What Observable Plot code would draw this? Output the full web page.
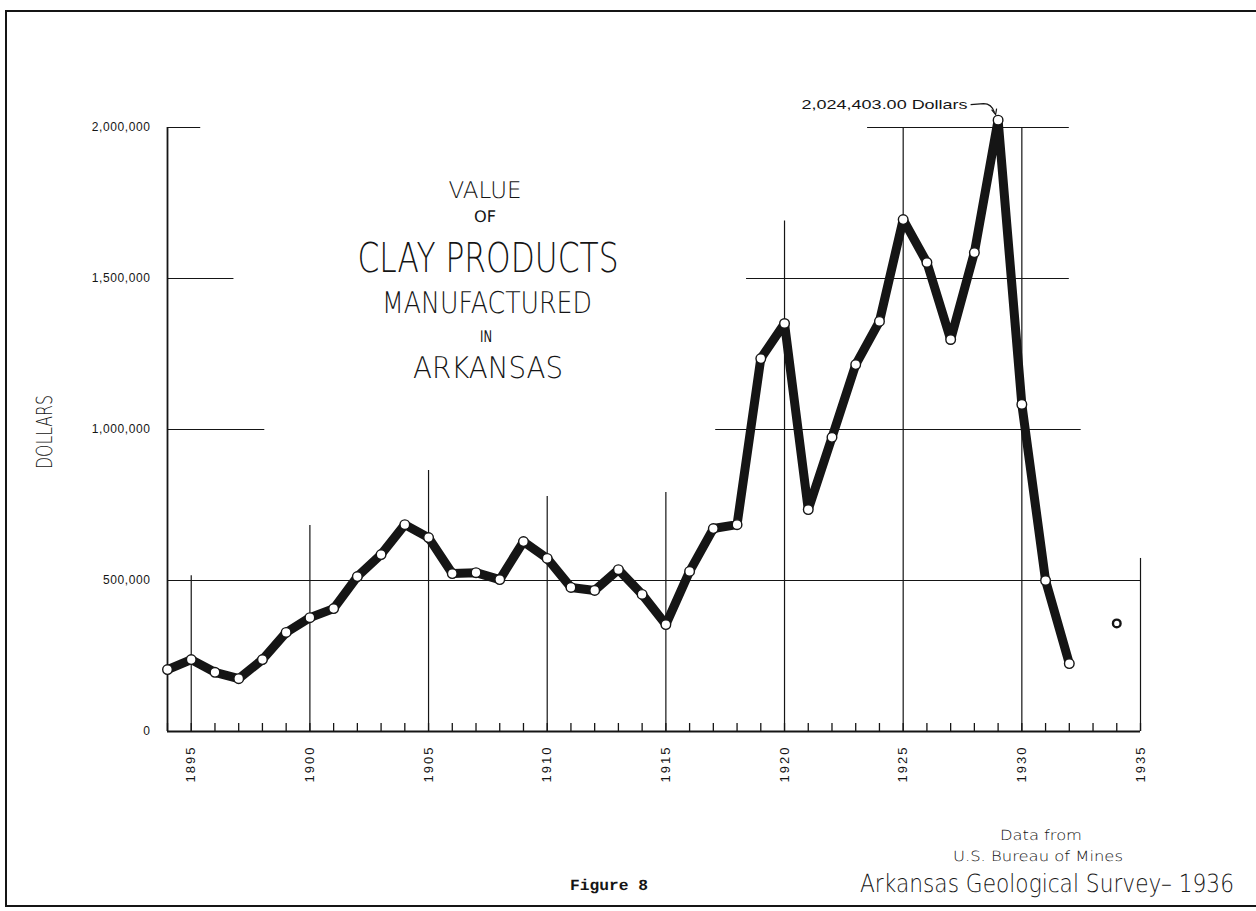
<!DOCTYPE html>
<html>
<head>
<meta charset="utf-8">
<script src="https://cdn.jsdelivr.net/npm/d3@7"></script>
<script src="https://cdn.jsdelivr.net/npm/@observablehq/plot@0.6"></script>
<style>
  body { margin: 0; background: #fff; }
  #wrap { position: relative; width: 1256px; height: 911px; overflow: hidden; background: #fff; }
  #frame { position: absolute; left: 5px; top: 10px; width: 1300px; height: 893px;
           border-left: 2px solid #151515; border-top: 2px solid #151515; border-bottom: 2.5px solid #151515; }
  #chart { position: absolute; left: 0; top: 0; }
  #overlay { position: absolute; left: 0; top: 0; pointer-events: none; text-rendering: geometricPrecision; }
</style>
</head>
<body>
<div id="wrap"><div id="frame"></div><div id="chart"></div></div>
<script>
// ---------------- data ----------------
const years = [1894,1895,1896,1897,1898,1899,1900,1901,1902,1903,1904,1905,1906,1907,1908,1909,1910,
  1911,1912,1913,1914,1915,1916,1917,1918,1919,1920,1921,1922,1923,1924,1925,1926,1927,1928,1929,1930,1931,1932];
const values = [205000,238000,196000,175000,238000,328000,377000,407000,513000,586000,685000,642000,523000,526000,503000,629000,573000,
  477000,467000,536000,454000,354000,530000,672000,685000,1235000,1351000,735000,974000,1215000,1358000,1695000,1553000,1298000,1586000,2024403,1083000,500000,225000];
const isolatedYears = [1934];
const isolatedValues = [358000];
const peakYear = 1929;
const peakLabel = "2,024,403.00 Dollars";

const xTickYears = [1895,1900,1905,1910,1915,1920,1925,1930,1935];
const yTickValues = [0,500000,1000000,1500000,2000000];

// hand-drawn partial grid (data units)
const hGridValues = [2000000,2000000,1500000,1500000,1000000,1000000,500000];
const hGridFrom   = [1894,1923.5,1894,1918.4,1894,1917.1,1894];
const hGridTo     = [1895.4,1932.0,1896.8,1932.0,1898.1,1932.5,1935];
const vGridYears  = [1895,1900,1905,1910,1915,1920,1925,1930,1935];
const vGridTops   = [516000,682000,864000,778000,791000,1690000,2000000,2000000,573000];

const titleLines = ["VALUE","OF","CLAY PRODUCTS","MANUFACTURED","IN","ARKANSAS"];
const yAxisTitle = "DOLLARS";
const sourceLines = ["Data from","U.S. Bureau of Mines"];
const figureLabel = "Figure 8";
const publisher = "Arkansas Geological Survey\u2013 1936";

// ---------------- build tables ----------------
const series = years.map((y,i)=>({year:y, value:values[i]}));
const isolated = isolatedYears.map((y,i)=>({year:y, value:isolatedValues[i]}));
const hGrid = hGridValues.map((v,i)=>({v, from:hGridFrom[i], to:hGridTo[i]}));
const vGrid = vGridYears.map((y,i)=>({year:y, top:vGridTops[i]}));
const allYears = d3.range(1894, 1936);

const W = 1256, H = 911, mT = 127, mB = 180, mL = 167, mR = 116;
const yMax = 2000000;
const tickLen = 8 * yMax / (H - mT - mB);
const ink = "#151515";
const peak = series.find(d => d.year === peakYear);

const annotation = (index, scales) => {
  const px = scales.x(peak.year), py = scales.y(peak.value);
  const g = d3.create("svg:g");
  g.append("text")
    .attr("x", px - 30).attr("y", py - 11)
    .attr("text-anchor", "end")
    .attr("font-family", "Liberation Sans, Arial, sans-serif")
    .attr("font-size", 13.5)
    .attr("textLength", 166).attr("lengthAdjust", "spacingAndGlyphs")
    .attr("fill", ink)
    .text(peakLabel);
  g.append("path")
    .attr("d", `M${px-27},${py-15} L${px-14},${py-16} Q${px-6},${py-16} ${px-3},${py-7}`)
    .attr("fill", "none").attr("stroke", ink).attr("stroke-width", 1.2);
  g.append("path")
    .attr("d", `M${px-6},${py-10} L${px-2},${py-5} L${px-1},${py-11}`)
    .attr("fill", "none").attr("stroke", ink).attr("stroke-width", 1.2);
  return g.node();
};

const chart = Plot.plot({
  width: W, height: H,
  marginTop: mT, marginBottom: mB, marginLeft: mL, marginRight: mR,
  style: { background: "transparent", color: ink, overflow: "visible" },
  x: { domain: [1894, 1935], axis: null },
  y: { domain: [0, yMax], axis: null },
  marks: [
    Plot.ruleY(hGrid, { y: "v", x1: "from", x2: "to", stroke: ink, strokeWidth: 1.2 }),
    Plot.ruleX(vGrid, { x: "year", y1: 0, y2: "top", stroke: ink, strokeWidth: 1.2 }),
    Plot.ruleX([1894], { y1: 0, y2: yMax, stroke: ink, strokeWidth: 1.8 }),
    Plot.ruleY([0], { x1: 1894, x2: 1935, stroke: ink, strokeWidth: 2.2 }),
    Plot.ruleX(allYears, { x: d => d, y1: 0, y2: tickLen, stroke: ink, strokeWidth: 1.3 }),
    Plot.axisY({ ticks: yTickValues, tickSize: 0, tickPadding: 17, tickFormat: d3.format(","),
                 fontSize: 12, fontFamily: "Liberation Sans, Arial, sans-serif", label: null }),
    Plot.axisX({ ticks: xTickYears, tickSize: 0, tickPadding: 14, tickRotate: -90, tickFormat: d => String(d),
                 fontSize: 13, fontFamily: "Liberation Sans, Arial, sans-serif", label: null }),
    Plot.line(series, { x: "year", y: "value", stroke: ink, strokeWidth: 9, strokeLinejoin: "round", strokeLinecap: "round" }),
    Plot.dot(series, { x: "year", y: "value", r: 4.8, fill: "white", stroke: ink, strokeWidth: 1.4 }),
    Plot.dot(isolated, { x: "year", y: "value", r: 3.8, fill: "white", stroke: ink, strokeWidth: 2.4 }),
    annotation
  ]
});
d3.select(chart).selectAll('g[aria-label="y-axis tick label"]').attr("letter-spacing", "0.6px");
d3.select(chart).selectAll('g[aria-label="x-axis tick label"]').attr("letter-spacing", "2px");
document.getElementById("chart").appendChild(chart);

// ---------------- overlay texts (scaled horizontally to the reference widths) ----------------
const ov = d3.select("#wrap").append("svg").attr("id", "overlay").attr("width", W).attr("height", H);
const thin = "DejaVu Sans, Liberation Sans, sans-serif";
function fitText(str, { cx, base, size, len, family = thin, weight = 200, anchor = "middle", rotate = 0 }) {
  const t = ov.append("text").attr("x", 0).attr("y", 0).attr("text-anchor", anchor)
    .attr("font-family", family).attr("font-weight", weight).attr("font-size", size)
    .attr("fill", ink).text(str);
  const w = t.node().getComputedTextLength() || len;
  t.attr("transform", `translate(${cx},${base}) rotate(${rotate}) scale(${len / w},1)`);
  return t;
}
const titleSpec = [
  { cx: 485, base: 198, size: 23, len: 73 },
  { cx: 485, base: 222, size: 16, len: 22, weight: 400 },
  { cx: 488, base: 272, size: 41, len: 261 },
  { cx: 487, base: 313, size: 30, len: 210 },
  { cx: 486, base: 342, size: 16, len: 12, weight: 400 },
  { cx: 488, base: 378, size: 30, len: 150 }
];
titleLines.forEach((t, i) => fitText(t, titleSpec[i]));
fitText(yAxisTitle, { cx: 52, base: 432, size: 22, len: 74, rotate: -90 });
const srcSpec = [{ cx: 1041, base: 840, size: 14, len: 82 }, { cx: 1038, base: 861, size: 14, len: 170 }];
sourceLines.forEach((t, i) => fitText(t, { ...srcSpec[i], weight: 200 }));
fitText(figureLabel, { cx: 570, base: 890, size: 15.5, len: 78, family: "Liberation Mono, Courier New, monospace", weight: 600, anchor: "start" });
fitText(publisher, { cx: 1047, base: 892, size: 25, len: 374 });
</script>
</body>
</html>
